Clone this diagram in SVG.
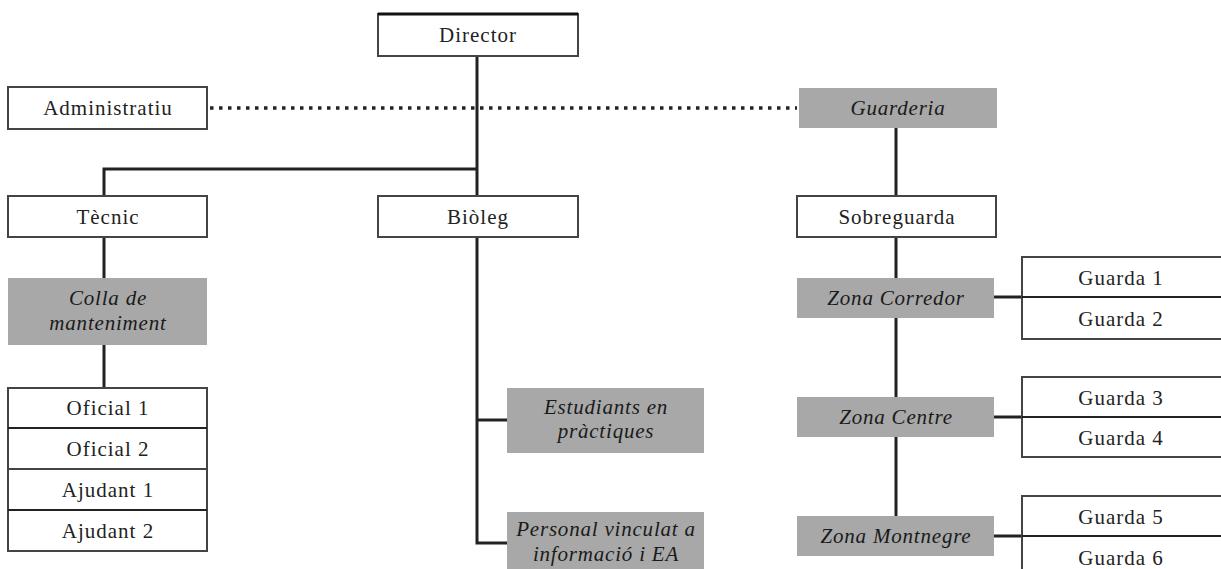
<svg xmlns="http://www.w3.org/2000/svg" width="1221" height="569" viewBox="0 0 1221 569">
<style>
.b{fill:#fff;stroke:#444;stroke-width:2}
.g{fill:#a8a8a8;stroke:none}
.t{font-family:"Liberation Serif","Times New Roman",serif;font-size:21px;letter-spacing:1px;fill:#222;text-anchor:middle}
.i{font-family:"Liberation Serif","Times New Roman",serif;font-size:21px;letter-spacing:0.8px;font-style:italic;fill:#1a1a1a;text-anchor:middle}
.c{stroke:#222;stroke-width:3;fill:none}
.d{stroke:#222;stroke-width:2;fill:none}
</style>
<rect width="1221" height="569" fill="#fff"/>
<g id="connectors">
<line class="c" x1="477" y1="56" x2="477" y2="196"/>
<polyline class="c" points="104,196 104,169 477,169"/>
<line class="c" x1="104" y1="237" x2="104" y2="278"/>
<line class="c" x1="104" y1="345" x2="104" y2="388"/>
<polyline class="c" points="477,237 477,543 507,543"/>
<line class="c" x1="477" y1="420" x2="507" y2="420"/>
<line x1="210" y1="108" x2="797" y2="108" stroke="#222" stroke-width="3.5" stroke-dasharray="3.5 5.5"/>
<line class="c" x1="896" y1="128" x2="896" y2="196"/>
<line class="c" x1="896" y1="237" x2="896" y2="278"/>
<line class="c" x1="896" y1="318" x2="896" y2="397"/>
<line class="c" x1="896" y1="437" x2="896" y2="516"/>
<line class="c" x1="994" y1="297" x2="1022" y2="297"/>
<line class="c" x1="994" y1="417" x2="1022" y2="417"/>
<line class="c" x1="994" y1="536" x2="1022" y2="536"/>
</g>
<g id="director"><rect class="b" x="378" y="14" width="200" height="42"/><line x1="378" y1="14" x2="578" y2="14" stroke="#111" stroke-width="3"/><text class="t" x="478" y="42">Director</text></g>
<g id="administratiu"><rect class="b" x="8" y="87" width="199" height="42"/><text class="t" x="108" y="115">Administratiu</text></g>
<g id="guarderia"><rect class="g" x="799" y="88" width="198" height="40"/><text class="i" x="898" y="115">Guarderia</text></g>
<g id="tecnic"><rect class="b" x="8" y="196" width="199" height="41"/><text class="t" x="108" y="224">Tècnic</text></g>
<g id="bioleg"><rect class="b" x="378" y="196" width="200" height="41"/><text class="t" x="478" y="224">Biòleg</text></g>
<g id="sobreguarda"><rect class="b" x="797" y="196" width="199" height="41"/><text class="t" x="897" y="224">Sobreguarda</text></g>
<g id="colla"><rect class="g" x="8" y="278" width="199" height="67"/><text class="i" x="108" y="305">Colla de</text><text class="i" x="108" y="330">manteniment</text></g>
<g id="oficials"><rect class="b" x="8" y="388" width="199" height="81"/><line class="d" x1="8" y1="428" x2="207" y2="428"/><text class="t" x="108" y="415">Oficial 1</text><text class="t" x="108" y="456">Oficial 2</text></g>
<g id="ajudants"><rect class="b" x="8" y="469" width="199" height="82"/><line class="d" x1="8" y1="510" x2="207" y2="510"/><text class="t" x="108" y="497">Ajudant 1</text><text class="t" x="108" y="538">Ajudant 2</text></g>
<g id="estudiants"><rect class="g" x="507" y="388" width="197" height="65"/><text class="i" x="606" y="414">Estudiants en</text><text class="i" x="606" y="438">pràctiques</text></g>
<g id="personal"><rect class="g" x="507" y="512" width="197" height="70"/><text class="i" x="606" y="536">Personal vinculat a</text><text class="i" x="606" y="561">informació i EA</text></g>
<g id="zona-corredor"><rect class="g" x="797" y="278" width="197" height="40"/><text class="i" x="896" y="305">Zona Corredor</text></g>
<g id="guarda12"><rect class="b" x="1022" y="257" width="215" height="82"/><line class="d" x1="1022" y1="297" x2="1221" y2="297"/><text class="t" x="1121" y="285">Guarda 1</text><text class="t" x="1121" y="326">Guarda 2</text></g>
<g id="zona-centre"><rect class="g" x="797" y="397" width="197" height="40"/><text class="i" x="896" y="424">Zona Centre</text></g>
<g id="guarda34"><rect class="b" x="1022" y="377" width="215" height="80"/><line class="d" x1="1022" y1="417" x2="1221" y2="417"/><text class="t" x="1121" y="405">Guarda 3</text><text class="t" x="1121" y="445">Guarda 4</text></g>
<g id="zona-montnegre"><rect class="g" x="797" y="516" width="197" height="40"/><text class="i" x="896" y="543">Zona Montnegre</text></g>
<g id="guarda56"><rect class="b" x="1022" y="496" width="215" height="85"/><line class="d" x1="1022" y1="536" x2="1221" y2="536"/><text class="t" x="1121" y="524">Guarda 5</text><text class="t" x="1121" y="565">Guarda 6</text></g>
</svg>
